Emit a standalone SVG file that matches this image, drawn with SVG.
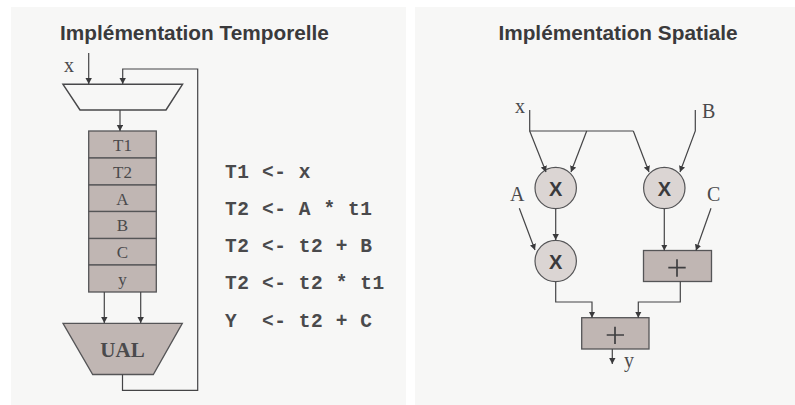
<svg xmlns="http://www.w3.org/2000/svg" width="795" height="405" viewBox="0 0 795 405">
<defs>
<marker id="a" markerUnits="userSpaceOnUse" markerWidth="7" markerHeight="7" refX="6" refY="3.200" orient="auto"><path d="M0,0L6,3.200L0,6.400Z" fill="#3a3a3c"/></marker>
</defs>
<style>
.t{font-family:"Liberation Serif","Times New Roman",serif;fill:#4a4a4c}
.h{font-family:"Liberation Sans",Arial,sans-serif;font-weight:bold;font-size:20.800px;fill:#3a3a3c;text-anchor:middle}
.m{font-family:"Liberation Mono","Courier New",monospace;font-weight:bold;font-size:19.500px;letter-spacing:.6px;fill:#4a4a4c;white-space:pre}
.c{fill:none;stroke:#444446;stroke-width:1.2}
.r{fill:#c0b6b3;stroke:#555557;stroke-width:1.3}
.o{fill:#dbd5d3;stroke:#555557;stroke-width:1.2}
.x{font-family:"Liberation Sans",Arial,sans-serif;font-weight:bold;font-size:20px;fill:#3a3a3c;text-anchor:middle}
.p{stroke:#3f3f41;stroke-width:1.7;fill:none}
</style>
<rect width="795" height="405" fill="#fff"/>
<rect x="11" y="7" width="395" height="398" fill="#f7f7f6"/>
<rect x="415" y="7" width="380" height="398" fill="#f7f7f6"/>
<text class="h" x="194.500" y="40">Implémentation Temporelle</text>
<text class="h" x="618" y="40">Implémentation Spatiale</text>

<g id="mux"><path d="M63,84.300H182.500L166,110H80Z" fill="#f7f7f6" stroke="#48484a" stroke-width="1.500"/></g>
<g id="registers">
<rect class="r" x="88.700" y="131" width="67.600" height="27"/><rect class="r" x="88.700" y="158" width="67.600" height="27"/><rect class="r" x="88.700" y="185" width="67.600" height="26.500"/><rect class="r" x="88.700" y="211.500" width="67.600" height="27"/><rect class="r" x="88.700" y="238.500" width="67.600" height="26.500"/><rect class="r" x="88.700" y="265" width="67.600" height="27"/>
<g class="t" font-size="17" text-anchor="middle"><text x="122.500" y="151">T1</text><text x="122.500" y="178">T2</text><text x="122.500" y="205">A</text><text x="122.500" y="231">B</text><text x="122.500" y="258">C</text><text x="122.500" y="285">y</text></g>
</g>
<g id="ual"><path class="r" d="M63,323.300H182.300L153.300,374.500H92.700Z"/><text class="t" x="122.500" y="357" font-size="21" font-weight="bold" text-anchor="middle">UAL</text></g>
<text class="t" x="64" y="72" font-size="20">x</text>
<g id="code">
<text class="m" x="225" y="178" xml:space="preserve">T1 &lt;- x</text>
<text class="m" x="225" y="215" xml:space="preserve">T2 &lt;- A * t1</text>
<text class="m" x="225" y="252" xml:space="preserve">T2 &lt;- t2 + B</text>
<text class="m" x="225" y="289" xml:space="preserve">T2 &lt;- t2 * t1</text>
<text class="m" x="225" y="327" xml:space="preserve">Y  &lt;- t2 + C</text>
</g>

<g id="n1"><circle class="o" cx="555.700" cy="188" r="20.700"/><text class="x" x="555.700" y="196">X</text></g>
<g id="n2"><circle class="o" cx="664.300" cy="188" r="20.700"/><text class="x" x="664.300" y="196">X</text></g>
<g id="n3"><circle class="o" cx="555.700" cy="261" r="20.700"/><text class="x" x="555.700" y="269">X</text></g>
<g id="n4"><rect class="r" x="643.500" y="250.500" width="68" height="31"/><path class="p" d="M668.300,267.700H685.700M677,259.300V276.700"/></g>
<g id="n5"><rect class="r" x="581.700" y="317.700" width="67.300" height="31.300"/><path class="p" d="M606.700,335H624M615,326.700V344"/></g>
<g class="t" font-size="20">
<text x="515" y="112.500">x</text><text x="702" y="118">B</text><text x="510" y="201">A</text><text x="707" y="201">C</text><text x="624" y="367">y</text>
</g>

<g id="connectors">
<path class="c" marker-end="url(#a)" d="M88.700,53V84"/>
<path class="c" marker-end="url(#a)" d="M122.500,374.500V390.300H197.700V69H122.700V84"/>
<path class="c" marker-end="url(#a)" d="M120,110V131"/>
<path class="c" marker-end="url(#a)" d="M104.300,292V323"/>
<path class="c" marker-end="url(#a)" d="M140.700,292V323"/>
<path class="c" d="M529.700,110V131H633.300"/>
<path class="c" marker-end="url(#a)" d="M529.700,131L546,172"/>
<path class="c" marker-end="url(#a)" d="M586.700,131L571,172"/>
<path class="c" marker-end="url(#a)" d="M633.300,131L649,172"/>
<path class="c" marker-end="url(#a)" d="M695.300,110V131L680,172"/>
<path class="c" marker-end="url(#a)" d="M519.300,208.300L535,250"/>
<path class="c" marker-end="url(#a)" d="M555.700,208.700V240"/>
<path class="c" marker-end="url(#a)" d="M664.300,208.700V250.500"/>
<path class="c" marker-end="url(#a)" d="M711,208.300L696,250.500"/>
<path class="c" marker-end="url(#a)" d="M555.700,281.700V302H592V317.700"/>
<path class="c" marker-end="url(#a)" d="M680.300,281.500V302H638.300V317.700"/>
<path class="c" marker-end="url(#a)" d="M612.300,349V364"/>
</g>
</svg>
